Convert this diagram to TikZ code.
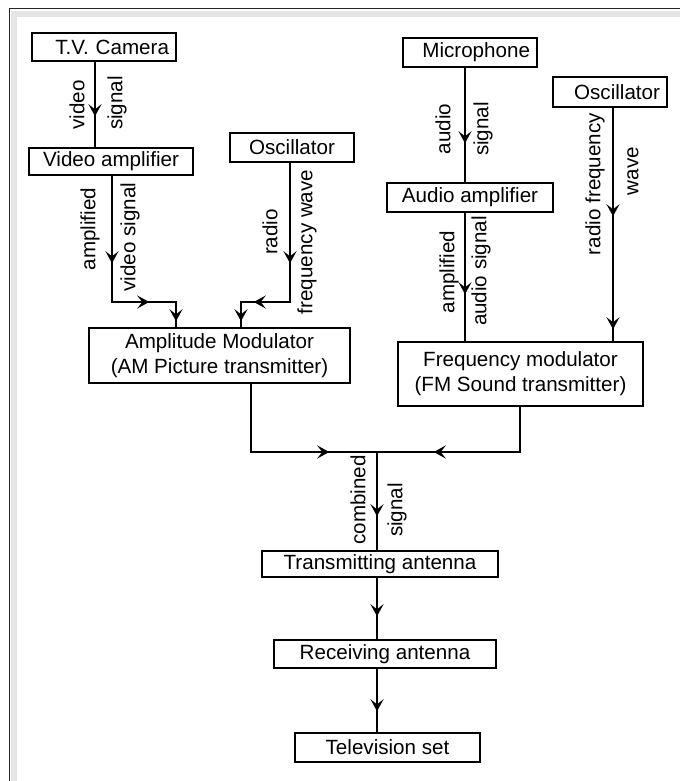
\documentclass[tikz,border=0pt]{standalone}
\usepackage{fontspec}
\setmainfont{Liberation Sans}
\usetikzlibrary{arrows.meta,decorations.markings}
\tikzset{
  blk/.style={draw, line width=2.5pt, inner sep=0pt, font=\fontsize{20.6}{25}\selectfont, align=center},
  rblk/.style={blk, align=right, inner xsep=7pt},
  lbl/.style={inner sep=0pt, font=\fontsize{20.6}{24}\selectfont, rotate=90},
  ln/.style={line width=2.5pt},
  >={Stealth[length=12pt,width=13pt,inset=5pt]},
  mk/.style={postaction={decorate,decoration={markings,mark=at position #1 with {\arrow{>}}}}},
  mktwo/.style 2 args={postaction={decorate,decoration={markings,
      mark=at position #1 with {\arrow{>}},
      mark=at position #2 with {\arrow{>}}}}},
  mkthree/.style n args={3}{postaction={decorate,decoration={markings,
      mark=at position #1 with {\arrow{>}},
      mark=at position #2 with {\arrow{>}},
      mark=at position #3 with {\arrow{>}}}}},
}
\begin{document}
\begin{tikzpicture}[x=1pt,y=-1pt]
\useasboundingbox (0,0) rectangle (680,781);
% frame
\fill[black!10] (11,11) rectangle (680,17);
\fill[black!10] (11,11) rectangle (17,781);
\draw[line width=1pt, black!85] (9,781) -- (9,9) -- (680,9);

% boxes
\node[rblk, text width=130pt, minimum height=28pt] (cam) at (104,47) {T.V. Camera};
\node[blk, minimum width=164pt, minimum height=27pt] (vamp) at (111,161.5) {Video amplifier};
\node[blk, minimum width=124pt, minimum height=29pt] (osca) at (292,147.5) {Oscillator};
\node[blk, minimum width=261pt, minimum height=55pt] (am) at (219.5,355.5) {Amplitude Modulator\\(AM Picture transmitter)};
\node[rblk, text width=120pt, minimum height=29pt] (mic) at (470,52.5) {Microphone};
\node[rblk, text width=100pt, minimum height=30pt] (oscb) at (610,92) {Oscillator};
\node[blk, minimum width=166pt, minimum height=29pt] (aamp) at (470,197.5) {Audio amplifier};
\node[blk, minimum width=245pt, minimum height=64pt] (fm) at (520.5,374) {Frequency modulator\\(FM Sound transmitter)};
\node[blk, minimum width=236pt, minimum height=26pt] (tx) at (380,564) {Transmitting antenna};
\node[blk, minimum width=222pt, minimum height=28pt] (rx) at (385,654) {Receiving antenna};
\node[blk, minimum width=185pt, minimum height=29pt] (tv) at (387.5,747.5) {Television set};

% helper coordinates
\coordinate (xa) at (95,0);
\coordinate (xb) at (112,0);
\coordinate (b1) at (112,302);
\coordinate (b2) at (176,302);
\coordinate (xc) at (290,0);
\coordinate (c1) at (290,302);
\coordinate (c2) at (241,302);
\coordinate (xm) at (465,0);
\coordinate (xo) at (613,0);
\coordinate (xd) at (251,0);
\coordinate (d1) at (251,452);
\coordinate (jn) at (377,452);
\coordinate (xe) at (520,0);
\coordinate (e1) at (520,452);

% connectors
\draw[ln, mk=54pt] (cam.south -| xa) -- (vamp.north -| xa);
\draw[ln, mkthree={87pt}{163pt}{209pt}] (vamp.south -| xb) -- (b1) -- (b2) -- (am.north -| b2);
\draw[ln, mkthree={100pt}{175pt}{207pt}] (osca.south -| xc) -- (c1) -- (c2) -- (am.north -| c2);
\draw[ln, mk=75pt] (mic.south -| xm) -- (aamp.north -| xm);
\draw[ln, mk=81pt] (aamp.south -| xm) -- (fm.north -| xm);
\draw[ln, mktwo={108pt}{221pt}] (oscb.south -| xo) -- (fm.north -| xo);
\draw[ln, mktwo={146pt}{258pt}] (am.south -| xd) -- (d1) -- (jn) -- (tx.north -| jn);
\draw[ln, mk=131pt] (fm.south -| xe) -- (e1) -- (jn);
\draw[ln, mk=38pt] (tx.south -| jn) -- (rx.north -| jn);
\draw[ln, mk=42pt] (rx.south -| jn) -- (tv.north -| jn);

% labels
\node[lbl] (l1) at (77,105) {video};
\node[lbl] (l2) at (117,103) {signal};
\node[lbl] (l3) at (90,229) {amplified};
\node[lbl] (l4) at (130,237) {video signal};
\node[lbl] (l5) at (270,232) {radio};
\node[lbl] (l6) at (307,242) {frequency wave};
\node[lbl] (l7) at (443,129) {audio};
\node[lbl] (l8) at (483,129) {signal};
\node[lbl] (l9) at (449,272) {amplified};
\node[lbl] (l10) at (481,271) {audio signal};
\node[lbl] (l11) at (595,184) {radio frequency};
\node[lbl] (l12) at (633,171) {wave};
\node[lbl] (l13) at (358,500) {combined};
\node[lbl] (l14) at (397,510) {signal};
\end{tikzpicture}
\end{document}
